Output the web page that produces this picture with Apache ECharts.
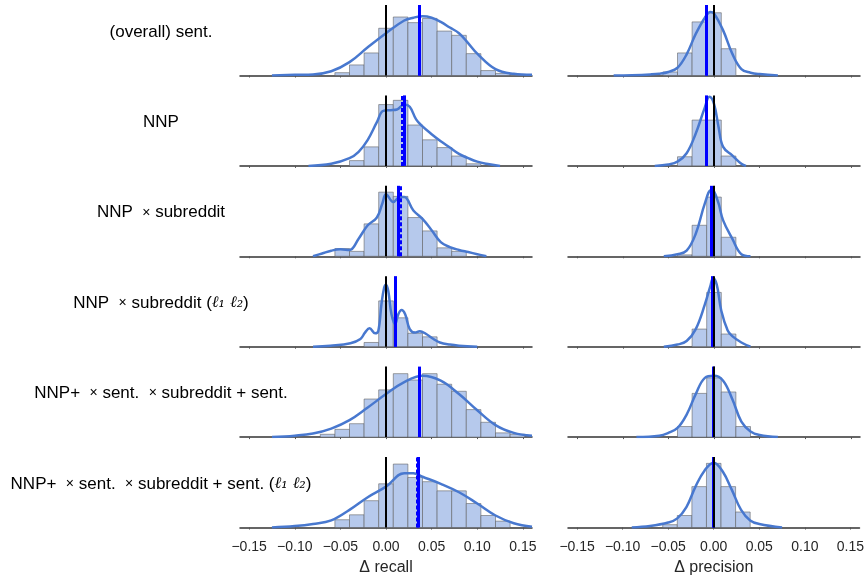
<!DOCTYPE html>
<html>
<head>
<meta charset="utf-8">
<script src="https://cdn.jsdelivr.net/npm/echarts@6/dist/echarts.min.js"></script>
<style>
  html, body { margin: 0; padding: 0; background: #fff; }
  #chart { width: 867px; height: 578px; }
</style>
</head>
<body>
<div id="chart"></div>
<script>
// histogram bins are shared by every panel (centres, width 0.016)
const binCenters = [-0.064, -0.048, -0.032, -0.016, 0, 0.016, 0.032, 0.048, 0.064, 0.08, 0.096, 0.112, 0.128, 0.144];
const binWidth = 0.016;
const tickValues = [-0.15, -0.1, -0.05, 0, 0.05, 0.1, 0.15];

// bar heights, % of the panel height, one row per model
const recallHist = [
  [0, 4, 15, 32, 67, 83, 75, 81, 63, 57, 31, 7, 3, 1.5],
  [0, 0, 7.5, 27, 87, 93, 58, 37, 26, 14, 3, 0, 0, 0],
  [0, 11, 7, 46, 91, 85, 55, 36, 12, 7, 0, 0, 0, 0],
  [0, 0, 0, 6, 65, 41, 19, 14, 0, 0, 0, 0, 0, 0],
  [4, 11, 19, 54, 67, 90, 81, 90, 75, 65, 39, 21, 6, 4],
  [0, 11, 18, 38, 62, 90, 71, 65, 52, 52, 34, 17, 9, 0]
];
const precisionHist = [
  [0, 5, 32, 76, 89, 38, 0, 0, 0, 0, 0, 0, 0, 0],
  [0, 0, 13, 65, 65, 14, 0, 0, 0, 0, 0, 0, 0, 0],
  [0, 0, 2, 44, 84, 27, 0, 0, 0, 0, 0, 0, 0, 0],
  [0, 0, 0, 25, 77, 18, 0, 0, 0, 0, 0, 0, 0, 0],
  [0, 0, 15, 62, 84, 64, 15, 0, 0, 0, 0, 0, 0, 0],
  [0, 4, 17, 58, 91, 58, 22, 0, 0, 0, 0, 0, 0, 0]
];

// kde curves: [delta, % of panel height]
const recallKde = [
  [[-0.125, 0], [-0.10, 1], [-0.08, 1.5], [-0.06, 6], [-0.04, 19], [-0.02, 40], [0, 60], [0.02, 78], [0.03, 82], [0.04, 84], [0.05, 82], [0.06, 76], [0.07, 68], [0.08, 60], [0.09, 46], [0.10, 31], [0.12, 9], [0.14, 2.4], [0.16, 1]],
  [[-0.085, 0], [-0.06, 3], [-0.04, 11], [-0.03, 20], [-0.02, 37], [-0.01, 62], [-0.003, 78], [0.005, 79], [0.012, 80], [0.02, 87], [0.026, 84], [0.033, 66], [0.04, 56], [0.05, 45], [0.06, 35], [0.07, 26], [0.08, 17], [0.09, 11], [0.10, 6], [0.11, 3], [0.125, 0]],
  [[-0.08, 0], [-0.07, 4], [-0.06, 8], [-0.05, 10], [-0.04, 9], [-0.03, 25], [-0.02, 44], [-0.01, 55], [-0.004, 75], [0, 88], [0.008, 77], [0.015, 84], [0.02, 84], [0.03, 65], [0.04, 53], [0.05, 37], [0.06, 20], [0.07, 13], [0.08, 9], [0.09, 6], [0.10, 3], [0.11, 0]],
  [[-0.08, 0], [-0.061, 1.5], [-0.039, 5], [-0.028, 11], [-0.023, 20], [-0.018, 26], [-0.012, 19], [-0.0085, 22], [-0.005, 60], [-0.002, 84], [0, 88], [0.0025, 79], [0.006, 46], [0.01, 32], [0.0135, 46], [0.017, 52], [0.021, 46], [0.026, 25], [0.032, 20], [0.037, 22], [0.044, 18], [0.052, 11], [0.059, 6], [0.07, 3], [0.08, 1.5], [0.10, 0]],
  [[-0.125, 0], [-0.10, 2], [-0.08, 5], [-0.06, 12], [-0.04, 24], [-0.02, 42], [0, 61], [0.02, 78], [0.04, 87], [0.06, 80], [0.08, 61], [0.10, 38], [0.12, 17], [0.14, 6], [0.16, 2]],
  [[-0.125, 0], [-0.10, 2], [-0.08, 5], [-0.06, 10], [-0.04, 25], [-0.02, 43], [0, 58], [0.02, 77], [0.03, 77], [0.04, 72], [0.06, 62], [0.08, 50], [0.10, 34], [0.12, 17], [0.14, 6], [0.16, 1]]
];
const precisionKde = [
  [[-0.11, 0], [-0.09, 0.5], [-0.07, 1.5], [-0.06, 2.5], [-0.05, 5], [-0.04, 11], [-0.03, 30], [-0.02, 59], [-0.01, 82], [-0.004, 90], [0, 88], [0.01, 64], [0.02, 31], [0.03, 9], [0.04, 4], [0.05, 2], [0.07, 0]],
  [[-0.065, 0], [-0.05, 2], [-0.04, 6], [-0.03, 18], [-0.02, 46], [-0.01, 83], [-0.005, 98], [0, 88], [0.005, 55], [0.01, 27], [0.02, 15], [0.03, 3], [0.035, 0]],
  [[-0.055, 0], [-0.04, 3], [-0.03, 8], [-0.02, 32], [-0.01, 75], [-0.003, 94], [0, 92], [0.005, 75], [0.01, 51], [0.02, 25], [0.03, 3], [0.04, 0]],
  [[-0.055, 0], [-0.04, 3], [-0.03, 8], [-0.02, 25], [-0.01, 60], [-0.004, 86], [-0.001, 97], [0.003, 88], [0.008, 51], [0.015, 23], [0.02, 15], [0.03, 6], [0.04, 0]],
  [[-0.085, 0], [-0.06, 2], [-0.05, 6], [-0.04, 13], [-0.03, 32], [-0.02, 61], [-0.01, 84], [0, 87], [0.01, 80], [0.02, 54], [0.03, 22], [0.04, 8], [0.05, 3], [0.07, 0]],
  [[-0.09, 0], [-0.07, 2], [-0.05, 7], [-0.04, 13], [-0.03, 29], [-0.02, 58], [-0.01, 81], [0, 92], [0.01, 79], [0.02, 53], [0.03, 25], [0.04, 10], [0.05, 5], [0.075, 0]]
];

// solid blue (mean) and dashed blue (median) lines
const recallMean = [0.0364, 0.0196, 0.0135, 0.0098, 0.0364, 0.0353];
const recallMedian = [0.0362, 0.0178, 0.0153, 0.0098, 0.0368, 0.0338];
const precisionMean = [-0.008, -0.008, -0.0025, -0.0018, -0.0011, -0.0007];
const precisionMedian = [-0.008, -0.008, -0.0025, -0.0018, -0.0011, -0.0007];

const rowLabels = [
  '{n|(overall) sent.}',
  '{n|NNP}',
  '{n|NNP  }{x|×}{n| subreddit}',
  '{n|NNP  }{x|×}{n| subreddit (}{l|ℓ₁ ℓ₂}{n|)}',
  '{n|NNP+  }{x|×}{n| sent.  }{x|×}{n| subreddit + sent.}',
  '{n|NNP+  }{x|×}{n| sent.  }{x|×}{n| subreddit + sent. (}{l|ℓ₁ ℓ₂}{n|)}'
];

const myChart = echarts.init(document.getElementById('chart'));
const font = 'Liberation Sans, Arial, sans-serif';
const rowTop = i => 5 + i * 90.4;
const panelH = 70.5;

function renderBin(params, api) {
  const c = api.value(0);
  const h = api.value(1);
  const p0 = api.coord([c - binWidth / 2, 0]);
  const p1 = api.coord([c + binWidth / 2, h]);
  return {
    type: 'rect',
    shape: { x: p0[0], y: p1[1], width: p1[0] - p0[0], height: p0[1] - p1[1] },
    style: { fill: '#b6c9ec', stroke: 'rgba(90,90,90,0.55)', lineWidth: 1 }
  };
}

function fmt(v) {
  return (v < 0 ? '\u2212' : '') + Math.abs(v).toFixed(2);
}

let grid = [], xAxis = [], yAxis = [], series = [];
for (let col = 0; col < 2; col++) {
  for (let i = 0; i < 6; i++) {
    const idx = grid.length;
    const last = i === 5;
    grid.push({ left: col === 0 ? 240 : 568, width: 292, top: rowTop(i), height: panelH });
    xAxis.push({
      type: 'value', gridIndex: idx, min: -0.16, max: 0.16,
      axisLine: { show: true, lineStyle: { color: '#333', width: 1.5 } },
      axisTick: { show: true, length: 2, customValues: tickValues, lineStyle: { color: '#555' } },
      axisLabel: {
        show: last, customValues: tickValues, formatter: fmt, margin: 13,
        fontFamily: font, fontSize: 14, color: '#262626'
      },
      splitLine: { show: false },
      name: last ? (col === 0 ? 'Δ recall' : 'Δ precision') : '',
      nameLocation: 'middle', nameGap: 32,
      nameTextStyle: { fontFamily: font, fontSize: 16, color: '#262626' }
    });
    yAxis.push({ type: 'value', gridIndex: idx, min: 0, max: 100, show: false });

    const hist = col === 0 ? recallHist[i] : precisionHist[i];
    const binData = [];
    hist.forEach((h, j) => { if (h > 0) binData.push([binCenters[j], h]); });
    series.push({
      type: 'custom', xAxisIndex: idx, yAxisIndex: idx, z: 1, silent: true,
      renderItem: renderBin, data: binData
    });
    series.push({
      type: 'line', xAxisIndex: idx, yAxisIndex: idx, z: 2, silent: true,
      data: col === 0 ? recallKde[i] : precisionKde[i],
      smooth: 0.4, showSymbol: false,
      lineStyle: { color: '#4878cf', width: 2.5 }
    });
    const mean = col === 0 ? recallMean[i] : precisionMean[i];
    const median = col === 0 ? recallMedian[i] : precisionMedian[i];
    series.push({
      type: 'line', xAxisIndex: idx, yAxisIndex: idx, z: 3, silent: true,
      data: [],
      markLine: {
        silent: true, symbol: ['none', 'none'], label: { show: false },
        precision: 5, animation: false,
        data: [
          { xAxis: median, lineStyle: { color: '#0000ff', width: 3, type: [4, 2] } },
          { xAxis: mean, lineStyle: { color: '#0000ff', width: 3, type: 'solid' } },
          { xAxis: 0, lineStyle: { color: '#000', width: 2, type: 'solid' } }
        ]
      }
    });
  }
}

// row labels, centred on x = 161
const labelRich = {
  n: { fontFamily: font, fontSize: 17, color: '#262626' },
  x: { fontFamily: font, fontSize: 14, color: '#262626' },
  l: { fontFamily: 'DejaVu Serif', fontStyle: 'italic', fontSize: 16, color: '#262626' }
};
const graphic = rowLabels.map((t, i) => ({
  type: 'text', x: 161, y: rowTop(i) + 27,
  style: { text: t, align: 'center', verticalAlign: 'middle', rich: labelRich }
}));

const option = {
  animation: false,
  backgroundColor: '#fff',
  grid: grid,
  xAxis: xAxis,
  yAxis: yAxis,
  series: series,
  graphic: graphic
};
myChart.setOption(option);
</script>
</body>
</html>
